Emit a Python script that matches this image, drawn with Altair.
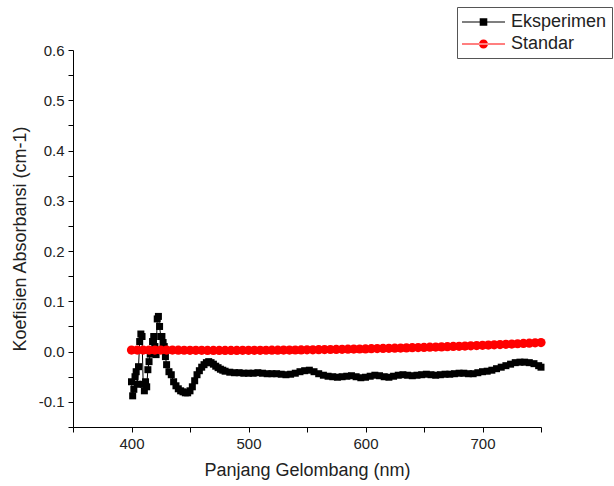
import altair as alt
import pandas as pd

# Experimental absorption coefficient (cm-1) vs wavelength (nm)
eks_wl = [400, 401, 402, 403, 404, 405, 406, 407, 408, 409,
          410, 411, 412, 413, 414, 415, 416, 417, 418, 419,
          420, 421, 422, 423, 424, 425, 426, 427, 428, 429,
          430, 432, 434, 436, 438, 440, 442, 444, 446, 448,
          450, 452, 454, 456, 458, 460, 462, 464, 466, 468,
          470, 472, 474, 476, 478, 480, 484, 488, 492, 496,
          500, 504, 508, 512, 516, 520, 524, 528, 532, 536,
          540, 544, 548, 552, 556, 560, 564, 568, 572, 576,
          580, 584, 588, 592, 596, 600, 604, 608, 612, 616,
          620, 624, 628, 632, 636, 640, 644, 648, 652, 656,
          660, 664, 668, 672, 676, 680, 684, 688, 692, 696,
          700, 704, 708, 712, 716, 720, 724, 728, 732, 736,
          740, 744, 748, 750]
eks_val = [-0.060, -0.088, -0.075, -0.050, -0.040, -0.065, -0.030, 0.020, 0.035, 0.030,
           -0.065, -0.078, -0.060, -0.070, -0.036, -0.020, -0.005, 0.000, 0.020, 0.030,
           0.010, -0.006, 0.065, 0.070, 0.050, 0.030, 0.030, 0.018, 0.010, -0.010,
           -0.026, -0.040, -0.046, -0.060, -0.068, -0.074, -0.078, -0.080, -0.082, -0.082,
           -0.078, -0.070, -0.058, -0.046, -0.038, -0.031, -0.026, -0.022, -0.020, -0.022,
           -0.025, -0.029, -0.032, -0.035, -0.037, -0.039, -0.041, -0.042, -0.042, -0.043,
           -0.043, -0.043, -0.042, -0.043, -0.044, -0.044, -0.044, -0.045, -0.046, -0.045,
           -0.043, -0.040, -0.038, -0.037, -0.040, -0.044, -0.047, -0.049, -0.050, -0.051,
           -0.050, -0.049, -0.048, -0.050, -0.052, -0.051, -0.049, -0.047, -0.048, -0.050,
           -0.051, -0.049, -0.047, -0.046, -0.047, -0.048, -0.047, -0.046, -0.045, -0.046,
           -0.047, -0.046, -0.045, -0.045, -0.044, -0.043, -0.043, -0.044, -0.044, -0.042,
           -0.040, -0.039, -0.037, -0.034, -0.031, -0.028, -0.025, -0.022, -0.021, -0.021,
           -0.022, -0.024, -0.028, -0.031]

# Reference (standard) absorption coefficient
std_wl = list(range(400, 751, 5))
std_val = [0.0030, 0.0030, 0.0030, 0.0030, 0.0030, 0.0030, 0.0030, 0.0030, 0.0028, 0.0027,
           0.0026, 0.0025, 0.0025, 0.0024, 0.0024, 0.0024, 0.0024, 0.0024, 0.0024, 0.0025,
           0.0025, 0.0026, 0.0026, 0.0027, 0.0028, 0.0029, 0.0030, 0.0031, 0.0032, 0.0033,
           0.0035, 0.0036, 0.0038, 0.0040, 0.0042, 0.0044, 0.0046, 0.0048, 0.0050, 0.0052,
           0.0054, 0.0057, 0.0060, 0.0062, 0.0065, 0.0068, 0.0071, 0.0074, 0.0077, 0.0080,
           0.0083, 0.0087, 0.0090, 0.0094, 0.0098, 0.0102, 0.0106, 0.0110, 0.0115, 0.0120,
           0.0125, 0.0130, 0.0135, 0.0140, 0.0145, 0.0150, 0.0156, 0.0162, 0.0168, 0.0174,
           0.0180]

series_names = ["Eksperimen", "Standar"]
series_colors = ["#000000", "#ff0000"]
# Legend glyphs: a short line with the series marker on it
legend_shapes = [
    "M-1,-0.05H3.3V0.05H-1Z M0.77,-0.38H1.53V0.38H0.77Z",
    "M-1,-0.05H3.3V0.05H-1Z M0.7,0A0.45,0.45 0 1,0 1.6,0A0.45,0.45 0 1,0 0.7,0Z",
]

x_ticks = list(range(350, 751, 50))
y_ticks = [round(-0.15 + 0.05 * i, 2) for i in range(16)]

eks = pd.DataFrame({"wl": eks_wl, "val": eks_val})
std = pd.DataFrame({"wl": std_wl, "val": std_val})
leg = pd.DataFrame({"series": series_names})

x_scale = alt.Scale(domain=[350, 750], nice=False, zero=False)
y_scale = alt.Scale(domain=[-0.15, 0.6], nice=False, zero=False)

# Labels only on every other tick; plain hyphen for negative values
x_axis = alt.Axis(values=x_ticks, labelOverlap=False,
                  labelExpr="round(datum.value / 50) % 2 == 0 ? datum.label : ''")
y_axis = alt.Axis(values=y_ticks, labelOverlap=False,
                  labelExpr="round(datum.value * 20) % 2 == 0 ? "
                            "(datum.value < -0.001 ? '-' + format(-datum.value, '.1f') "
                            ": format(abs(datum.value), '.1f')) : ''")

x_enc = alt.X("wl:Q", scale=x_scale, title="Panjang Gelombang (nm)", axis=x_axis)
y_enc = alt.Y("val:Q", scale=y_scale, title="Koefisien Absorbansi (cm-1)", axis=y_axis)

eks_line = alt.Chart(eks).mark_line(color="#000000", strokeWidth=1).encode(x=x_enc, y=y_enc)
eks_pts = alt.Chart(eks).mark_point(shape="square", filled=True, size=49, opacity=1,
                                    color="#000000").encode(x=x_enc, y=y_enc)
std_line = alt.Chart(std).mark_line(color="#ff0000", strokeWidth=1).encode(x=x_enc, y=y_enc)
std_pts = alt.Chart(std).mark_point(shape="circle", filled=True, size=85, opacity=1,
                                    color="#ff0000").encode(x=x_enc, y=y_enc)

legend_layer = alt.Chart(leg).mark_point(filled=True, size=0, opacity=1).encode(
    x=alt.value(0),
    y=alt.value(0),
    color=alt.Color("series:N",
                    scale=alt.Scale(domain=series_names, range=series_colors),
                    legend=alt.Legend(title=None, orient="none", legendX=384, legendY=-43,
                                      symbolOpacity=1, symbolStrokeWidth=0, symbolSize=400,
                                      labelOffset=29, rowPadding=3, padding=5,
                                      strokeColor="#555555", fillColor="white",
                                      labelFontSize=18, labelFont="Liberation Sans",
                                      labelColor="#222222")),
    shape=alt.Shape("series:N", scale=alt.Scale(domain=series_names, range=legend_shapes)),
)

chart = alt.layer(eks_line, eks_pts, std_line, std_pts, legend_layer).properties(
    width=468, height=377,
    autosize=alt.AutoSizeParams(type="none"),
    padding={"left": 73, "top": 50, "right": 73, "bottom": 59},
).configure_view(stroke=None).configure_axis(
    grid=False, domainColor="#000000", domainWidth=1, tickColor="#000000", tickSize=5,
    labelFont="Liberation Sans", titleFont="Liberation Sans", labelFontSize=15,
    titleFontSize=18, titleFontWeight="normal", labelColor="#222222", titleColor="#222222",
    labelPadding=4,
).configure_axisY(titlePadding=9).configure_axisX(titlePadding=10)

chart.save("out.html", embed_options={"renderer": "svg", "actions": False})
